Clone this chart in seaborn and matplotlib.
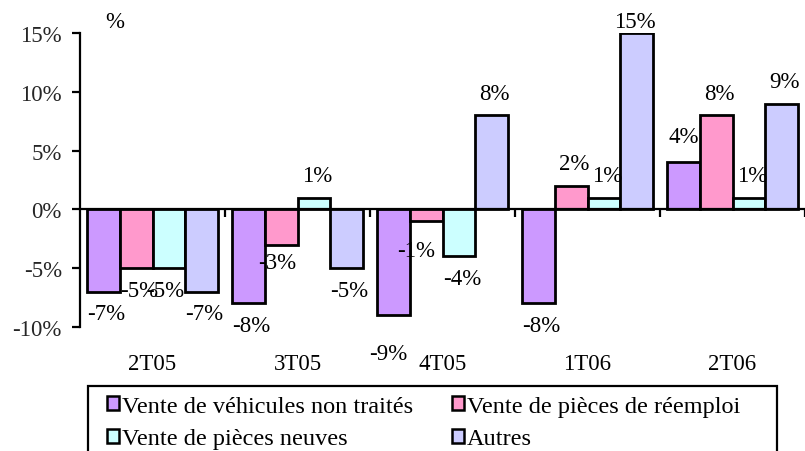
import matplotlib
matplotlib.use("Agg")
import matplotlib.pyplot as plt
from matplotlib.patches import Patch, Rectangle
import matplotlib.transforms as mtransforms
import pandas as pd
import seaborn as sns

# Quarterly change by revenue line (%)
quarters = ["2T05", "3T05", "4T05", "1T06", "2T06"]
series = [
    "Vente de véhicules non traités",
    "Vente de pièces de réemploi",
    "Vente de pièces neuves",
    "Autres",
]
vehicules = [-7, -8, -9, -8, 4]
reemploi = [-5, -3, -1, 2, 8]
neuves = [-5, 1, -4, 1, 1]
autres = [-7, -5, 8, 15, 9]
y_ticks = [-10, -5, 0, 5, 10, 15]

colors = ["#CC99FF", "#FF99CC", "#CCFFFF", "#CCCCFF"]

values = [vehicules, reemploi, neuves, autres]
df = pd.DataFrame(
    [(q, s, v[i]) for s, v in zip(series, values) for i, q in enumerate(quarters)],
    columns=["trimestre", "serie", "valeur"],
)

sns.set_theme(style="white")
plt.rcParams["font.family"] = ["Liberation Serif", "DejaVu Serif"]
plt.rcParams["text.color"] = "black"

W, H = 805, 452
fig = plt.figure(figsize=(W / 100, H / 100), dpi=100)
ax = fig.add_axes([80 / W, (H - 328) / H, (805 - 80) / W, (328 - 34) / H])

sns.barplot(
    data=df, x="trimestre", y="valeur", hue="serie",
    order=quarters, hue_order=series, palette=colors,
    width=0.9, saturation=1, edgecolor="black", linewidth=2,
    errorbar=None, legend=False, ax=ax,
)

ax.set_xlim(-0.5, len(quarters) - 0.5)
ax.set_ylim(-10, 15)
ax.set_xlabel("")
ax.set_ylabel("")

# axes styling: y axis on the left, category axis crossing at zero
for side in ("top", "right"):
    ax.spines[side].set_visible(False)
ax.spines["left"].set_linewidth(1.6)
ax.spines["left"].set_color("black")
ax.spines["bottom"].set_position(("data", 0))
ax.spines["bottom"].set_linewidth(1.6)
ax.spines["bottom"].set_color("black")

ax.set_yticks(y_ticks)
ax.set_yticklabels([f"{v}%" for v in y_ticks], fontsize=16.5)
ax.tick_params(axis="y", direction="out", length=6, width=1.6, pad=7,
               left=True, color="black")

ax.set_xticks([i + 0.5 for i in range(len(quarters))])
ax.set_xticklabels([])
ax.tick_params(axis="x", direction="out", length=6, width=1.6,
               bottom=True, color="black")

# category names along the bottom of the plot area
btrans = mtransforms.blended_transform_factory(ax.transData, ax.transAxes)
for i, q in enumerate(quarters):
    ax.annotate(q, xy=(i, 0), xycoords=btrans, xytext=(0, -37),
                textcoords="offset pixels", ha="center", va="center",
                fontsize=16.5, annotation_clip=False)

# value labels; a few are nudged where they would collide
nudges = {
    (2, 0): (-8, 16),
    (2, 1): (-13, 7),
    (3, 3): (-5, -11),
    (1, 1): (-7, -4),
    (0, 2): (-7, 0),
    (4, 0): (-3, 4),
}
for s_idx, container in enumerate(ax.containers):
    for q_idx, bar in enumerate(container):
        v = values[s_idx][q_idx]
        cx = bar.get_x() + bar.get_width() / 2
        dx, dy = 3, (22 if v >= 0 else -22)
        ndx, ndy = nudges.get((q_idx, s_idx), (0, 0))
        dx += ndx
        dy += -ndy if v < 0 else ndy
        ax.annotate(f"{v}%", xy=(cx, v), xytext=(dx, dy),
                    textcoords="offset pixels", ha="center", va="center",
                    fontsize=16.5, annotation_clip=False)

fig.text(115 / W, 1 - 22 / H, "%", ha="center", va="center", fontsize=16.5)

# legend box, running past the bottom edge
fig.patches.append(Rectangle((88 / W, -0.05), (777 - 88) / W, 0.05 + (H - 387) / H,
                             transform=fig.transFigure, facecolor="white",
                             edgecolor="black", linewidth=1.6, zorder=0))
handles = [Patch(facecolor=c, edgecolor="black", linewidth=1.8) for c in colors]
order = [0, 2, 1, 3]
fig.legend([handles[i] for i in order], [series[i] for i in order],
           ncol=2, loc="upper left", bbox_to_anchor=(107 / W, 1 - 397 / H),
           frameon=False, fontsize=17.5, handlelength=0.5, handleheight=0.5,
           handletextpad=0.12, columnspacing=1.6, labelspacing=0.47,
           borderpad=0.0, borderaxespad=0)

fig.savefig("out.png", dpi=100)
